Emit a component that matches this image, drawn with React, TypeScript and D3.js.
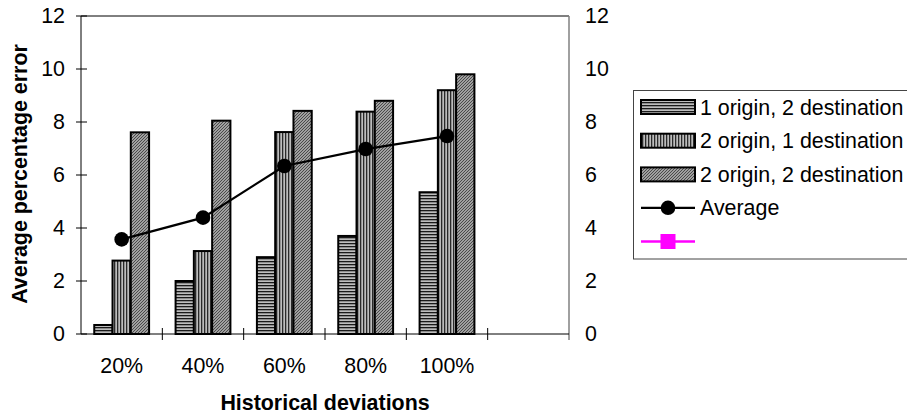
import React from "react";
import * as d3 from "d3";

const categories = ["20%", "40%", "60%", "80%", "100%", ""];
const seriesNames = ["1 origin, 2 destination", "2 origin, 1 destination", "2 origin, 2 destination"];
const s1 = [0.34, 2.0, 2.9, 3.7, 5.35];
const s2 = [2.77, 3.13, 7.62, 8.39, 9.2];
const s3 = [7.61, 8.05, 8.42, 8.8, 9.8];
const average = [3.57, 4.39, 6.34, 6.98, 7.47];
const yTicks = [0, 2, 4, 6, 8, 10, 12];

const W = 907, H = 414;
const left = 81, right = 569, top = 16, bottom = 334;
const FONT = "'Liberation Sans', Arial, sans-serif";
const FS = 21.4;

export default function App() {
  const x = d3.scaleBand<string>().domain(categories).range([left, right]).paddingInner(0).paddingOuter(0);
  const y = d3.scaleLinear().domain([0, 12]).range([bottom, top]);
  const bw = x.bandwidth();
  const barW = bw / (3 + 1.45);
  const groupOff = (bw - 3 * barW) / 2;
  const series = [s1, s2, s3];
  const patterns = ["pH", "pV", "pD"];
  const line = d3.line<number>().x((_, i) => x(categories[i])! + bw / 2).y(d => y(d));

  return (
    <svg width={W} height={H} style={{ position: "absolute", left: 0, top: 0, background: "#fff" }} fontFamily={FONT}>
      <defs>
        <pattern id="pH" width="4" height="3" patternUnits="userSpaceOnUse">
          <rect width="4" height="3" fill="#bdbdbd" />
          <rect width="4" height="1.3" fill="#1a1a1a" />
        </pattern>
        <pattern id="pV" width="3" height="4" patternUnits="userSpaceOnUse">
          <rect width="3" height="4" fill="#bdbdbd" />
          <rect width="1.3" height="4" fill="#2a2a2a" />
        </pattern>
        <pattern id="pD" width="3" height="3" patternUnits="userSpaceOnUse">
          <rect width="3" height="3" fill="#a0a0a0" />
          <path d="M0,3 L3,0" stroke="#4a4a4a" strokeWidth="1" />
        </pattern>
      </defs>
      <rect x={0} y={0} width={W} height={H} fill="#fff" />
      <line x1={left} x2={right} y1={top} y2={top} stroke="#000" strokeWidth={1} />
      <line x1={right} x2={right} y1={top} y2={bottom + 6} stroke="#808080" strokeWidth={1.5} />
      {series.map((s, si) =>
        s.map((v, i) => (
          <rect key={`${si}-${i}`}
            x={x(categories[i])! + groupOff + si * barW}
            y={y(v)}
            width={barW}
            height={bottom - y(v)}
            fill={`url(#${patterns[si]})`}
            stroke="#000" strokeWidth={2} />
        ))
      )}
      <line x1={left} x2={left} y1={top} y2={bottom} stroke="#000" strokeWidth={1} />
      {yTicks.map(t => (
        <g key={t}>
          <line x1={left - 5} x2={left + 6} y1={y(t)} y2={y(t)} stroke="#000" />
          <text x={65} y={y(t)} dy="0.35em" textAnchor="end" fontSize={FS}>{t}</text>
          <text x={585} y={y(t)} dy="0.35em" textAnchor="start" fontSize={FS}>{t}</text>
        </g>
      ))}
      <line x1={left} x2={right} y1={bottom} y2={bottom} stroke="#000" strokeWidth={1} />
      {categories.slice(1).map(c => (
        <line key={c} x1={x(c)!} x2={x(c)!} y1={bottom - 6} y2={bottom + 6} stroke="#000" />
      ))}
      {categories.map(c => (
        <text key={c} x={x(c)! + bw / 2} y={366} dy="0.35em" textAnchor="middle" fontSize={FS}>{c}</text>
      ))}
      <path d={line(average)!} fill="none" stroke="#000" strokeWidth={2.3} />
      {average.map((v, i) => (
        <circle key={i} cx={x(categories[i])! + bw / 2} cy={y(v)} r={7.3} fill="#000" />
      ))}
      <text x={325} y={403} dy="0.35em" textAnchor="middle" fontSize={FS} fontWeight="bold">Historical deviations</text>
      <text transform={`translate(19,174) rotate(-90)`} dy="0.35em" textAnchor="middle" fontSize={FS} fontWeight="bold">Average percentage error</text>
      <rect x={633.5} y={90.5} width={290} height={168.5} fill="#fff" stroke="#444" strokeWidth={1} />
      {seriesNames.map((n, i) => (
        <g key={n}>
          <rect x={641} y={100 + i * 33.7} width={54} height={14} fill={`url(#${patterns[i]})`} stroke="#000" strokeWidth={2} />
          <text x={700} y={107.3 + i * 33.7} dy="0.35em" fontSize={FS}>{n}</text>
        </g>
      ))}
      <line x1={641} x2={695} y1={207.8} y2={207.8} stroke="#000" strokeWidth={2.3} />
      <circle cx={668} cy={207.8} r={7.3} fill="#000" />
      <text x={700} y={207.8} dy="0.35em" fontSize={FS}>Average</text>
      <line x1={641} x2={695} y1={241.5} y2={241.5} stroke="#ff00ff" strokeWidth={2.3} />
      <rect x={660.5} y={234} width={15} height={15} fill="#ff00ff" />
    </svg>
  );
}
